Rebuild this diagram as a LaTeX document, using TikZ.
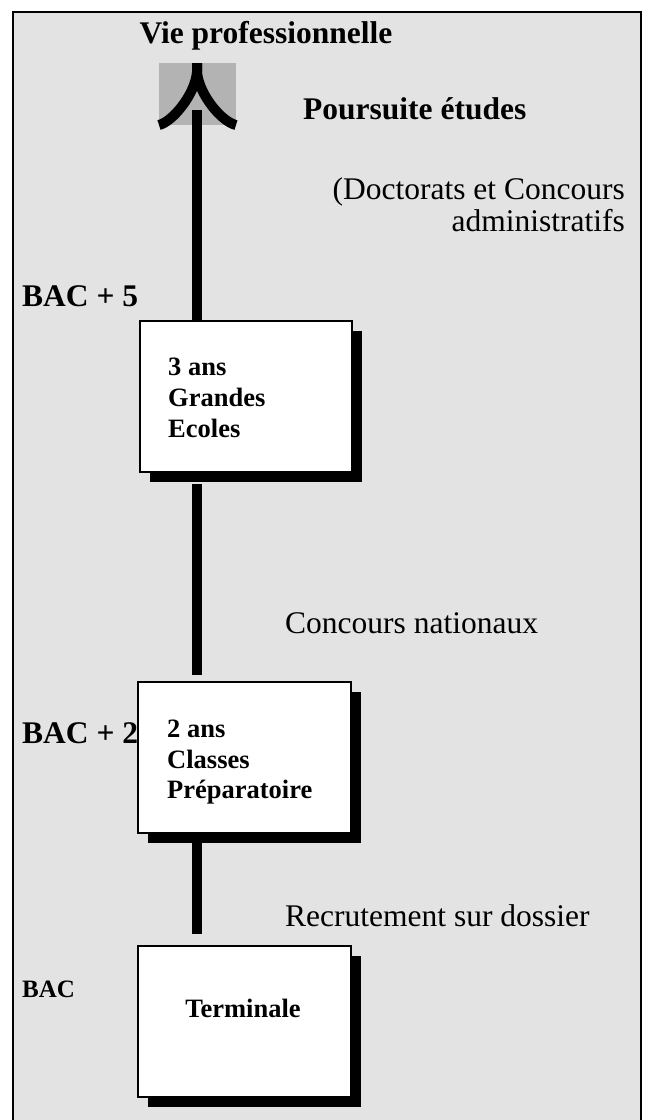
\documentclass[tikz,border=0pt]{standalone}
\usepackage{fontspec}
\setmainfont{Liberation Serif}
\usetikzlibrary{shadows}
\definecolor{bggray}{HTML}{E3E3E3}
\definecolor{headgray}{HTML}{B3B3B3}
\tikzset{
  x=1pt, y=-1pt,
  tbig/.style={font=\fontsize{31.5}{36}\selectfont, inner sep=0pt},
  tbigb/.style={font=\fontsize{31.5}{36}\selectfont\bfseries, inner sep=0pt},
  tbox/.style={font=\fontsize{26.5}{31}\selectfont\bfseries, inner sep=0pt, align=left},
  stagebox/.style={draw=black, line width=2pt, fill=white, rectangle, inner sep=0pt,
    minimum height=151pt,
    drop shadow={shadow xshift=9.5pt, shadow yshift=-9.5pt, opacity=1, fill=black}},
  stem/.style={line width=10pt, black, line cap=butt},
}
\begin{document}
\begin{tikzpicture}
\useasboundingbox (0,0) rectangle (649,1120);
\clip (0,0) rectangle (649,1120);
% frame
\draw[line width=2.5pt, fill=bggray] (13,12) rectangle (641,1135);

% arrow head
\fill[headgray] (159,63) rectangle (236,125);
\draw[stem, line join=round] (197,63) -- (197,72) .. controls (195,95) and (172,122) .. (159,125);
\draw[stem, line join=round] (197,63) -- (197,72) .. controls (199,95) and (222,122) .. (236,125);

% boxes
\node[stagebox, minimum width=212pt] (g) at (246,396.5) {};
\node[stagebox, minimum width=213pt] (c) at (244.5,757.5) {};
\node[stagebox, minimum width=213pt] (t) at (244.5,1021.5) {};

% stem connectors
\coordinate (top) at (197,110);
\draw[stem] (top) -- (g.north -| top);
\draw[stem, shorten <=11pt, shorten >=6pt] (g.south -| top) -- (c.north -| top);
\draw[stem, shorten <=9pt, shorten >=11pt] (c.south -| top) -- (t.north -| top);

% box texts
\node[tbox, anchor=base west] (g1) at (168,375) {3 ans};
\node[tbox, anchor=base west] (g2) at (168,406) {Grandes};
\node[tbox, anchor=base west] (g3) at (168,437) {Ecoles};
\node[tbox, anchor=base west] (c1) at (167,737) {2 ans};
\node[tbox, anchor=base west] (c2) at (167,768) {Classes};
\node[tbox, anchor=base west] (c3) at (167,798) {Préparatoire};
\node[tbox, anchor=base] (t1) at (243,1017) {Terminale};

% labels
\node[tbigb, anchor=base] (vie) at (266,43) {Vie professionnelle};
\node[tbigb, anchor=base west] (pe) at (303,119) {Poursuite études};
\node[tbig, anchor=base east] (doc1) at (625,199) {(Doctorats et Concours};
\node[tbig, anchor=base east] (doc2) at (625,231) {administratifs};
\node[tbigb, anchor=base west] (b5) at (22,306) {BAC + 5};
\node[tbigb, anchor=base west] (b2) at (22,743) {BAC + 2};
\node[font=\fontsize{25}{30}\selectfont\bfseries, inner sep=0pt, anchor=base west] (b0) at (22,997) {BAC};
\node[tbig, anchor=base west] (cn) at (285,633) {Concours nationaux};
\node[tbig, anchor=base west] (rd) at (285,926) {Recrutement sur dossier};
\end{tikzpicture}
\end{document}
